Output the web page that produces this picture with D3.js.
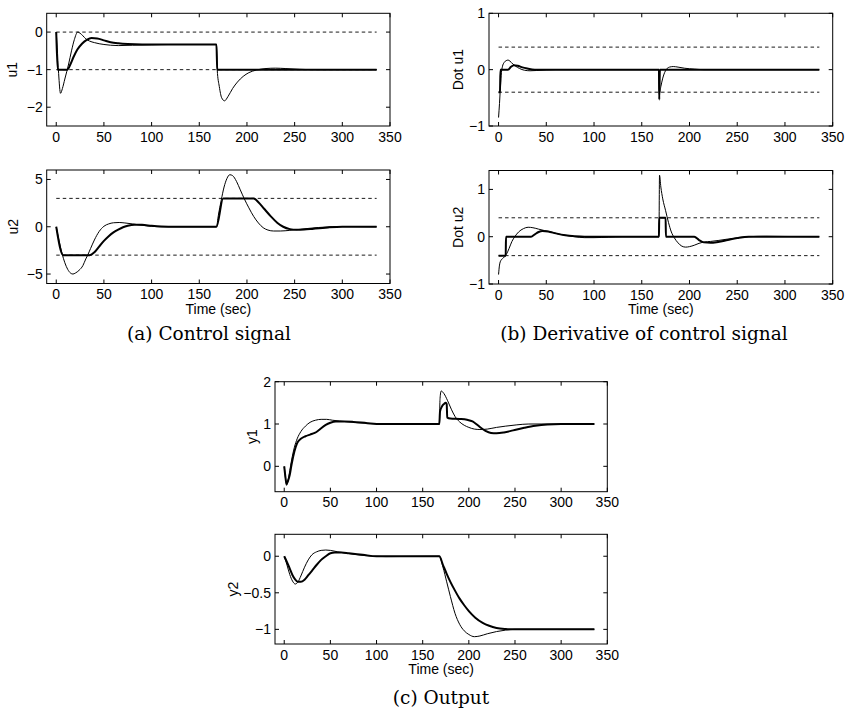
<!DOCTYPE html>
<html>
<head>
<meta charset="utf-8">
<script src="https://cdn.jsdelivr.net/npm/d3@7"></script>
<style>
  body { margin: 0; background: #fff; }
  svg { display: block; }
  .tick-label { font-family: "Liberation Sans", Arial, sans-serif; font-size: 14px; fill: #000; }
  .caption { font-family: "DejaVu Serif", serif; font-size: 18.5px; fill: #000; }
</style>
</head>
<body>
<svg id="chart" width="846" height="713"></svg>
<script>
// x ticks shared by every panel
const timeTicks = [0, 50, 100, 150, 200, 250, 300, 350];

// (a) control signal u1: [time, value]
const u1Thin = [[0,0],[1,-0.4],[2.5,-1.1],[4.5,-1.63],[6.5,-1.5],[9,-1.25],[13,-0.85],[16,-0.5],[19,-0.2],[22.5,0],[25,-0.03],[28,-0.1],[31,-0.18],[35,-0.24],[40,-0.28],[45,-0.31],[50,-0.33],[57,-0.35],[65,-0.36],[80,-0.35],[100,-0.34],[120,-0.33],[168,-0.33],[168.8,-1],[171,-1.45],[173.5,-1.75],[176.5,-1.83],[180,-1.72],[185,-1.5],[190,-1.33],[196,-1.18],[202,-1.08],[210,-1.01],[220,-0.97],[230,-0.96],[240,-0.97],[255,-0.99],[270,-1],[336,-1]];
const u1Thick = [[0,0],[1.5,-1],[11.5,-1],[15,-0.85],[18,-0.67],[22,-0.47],[27,-0.31],[32,-0.21],[37,-0.16],[43,-0.17],[50,-0.22],[57,-0.27],[65,-0.3],[75,-0.32],[90,-0.33],[168,-0.33],[168.8,-1],[336,-1]];
const u1Bounds = [0, -1];

// (a) control signal u2
const u2Thin = [[0,0],[3,-1.5],[6,-2.8],[9,-3.8],[12,-4.5],[15,-4.9],[17.5,-5],[20,-4.9],[24,-4.6],[28,-4.1],[31,-3.4],[33,-3.0],[36,-2.3],[40,-1.4],[45,-0.5],[50,0.05],[55,0.3],[60,0.42],[66,0.45],[72,0.4],[80,0.3],[90,0.15],[100,0.05],[110,0],[168,0],[170,1.2],[173,2.8],[176,4.2],[179,5.1],[182,5.5],[185,5.4],[189,4.8],[193,3.9],[197,3.0],[202,2.0],[207,1.1],[212,0.4],[217,-0.1],[222,-0.35],[228,-0.45],[235,-0.45],[245,-0.38],[255,-0.28],[265,-0.17],[275,-0.08],[285,-0.02],[295,0.02],[310,0.02],[336,0]];
const u2Thick = [[0,0],[7.3,-3],[35,-3],[40,-2.7],[45,-2.1],[50,-1.5],[55,-1.0],[60,-0.6],[65,-0.3],[70,-0.05],[75,0.1],[82,0.2],[90,0.2],[100,0.1],[110,0.03],[125,0],[168,0],[175,3],[207,3],[212,2.6],[218,1.9],[225,1.1],[232,0.4],[238,0],[245,-0.25],[252,-0.33],[260,-0.3],[270,-0.2],[285,-0.07],[300,0],[336,0]];
const u2Bounds = [3, -3];

// (b) derivative of u1
const du1Thin = [[0,-0.85],[1,-0.6],[2,-0.3],[3,-0.05],[4,0.05],[6,0.13],[8,0.16],[10,0.17],[12,0.15],[15,0.1],[18,0.06],[22,0.02],[27,-0.01],[33,-0.02],[40,-0.015],[50,-0.005],[60,0],[168,0],[168.5,-0.42],[170,-0.3],[172,-0.15],[174,-0.05],[176,0.01],[179,0.045],[183,0.055],[188,0.045],[195,0.025],[205,0.01],[215,0],[336,0]];
const du1Thick = [[0,-0.4],[1.5,-0.4],[2,0],[10,0],[13,0.05],[16,0.08],[20,0.07],[25,0.04],[30,0.02],[38,0],[168,0],[168.3,-0.53],[169,0],[336,0]];
const du1Bounds = [0.4, -0.4];

// (b) derivative of u2
const du2Thin = [[0,-0.8],[1,-0.6],[2.5,-0.5],[5,-0.45],[8,-0.38],[11,-0.25],[14,-0.1],[17,0],[21,0.1],[26,0.17],[31,0.2],[36,0.19],[42,0.16],[48,0.13],[55,0.1],[62,0.06],[70,0.03],[80,0],[90,-0.02],[100,-0.02],[115,-0.01],[130,0],[168,0],[168.6,1.3],[170,1.05],[172,0.8],[175,0.55],[178,0.3],[181,0.1],[184,-0.02],[188,-0.13],[192,-0.2],[196,-0.22],[200,-0.21],[205,-0.18],[210,-0.14],[216,-0.11],[222,-0.1],[230,-0.08],[240,-0.05],[250,-0.02],[262,0],[280,0.01],[300,0.005],[336,0]];
const du2Thick = [[0,-0.4],[7.5,-0.4],[7.8,0],[34,0],[38,0.05],[42,0.1],[46,0.12],[52,0.11],[60,0.07],[70,0.03],[80,0.01],[90,0],[168,0],[168.3,0.4],[175,0.4],[175.3,0],[205,0],[210,-0.07],[215,-0.12],[222,-0.13],[230,-0.11],[240,-0.07],[250,-0.03],[262,0],[336,0]];
const du2Bounds = [0.4, -0.4];

// (c) output y1
const y1Thin = [[0,0],[1,-0.2],[2.5,-0.45],[4,-0.35],[6,-0.1],[8,0.15],[11,0.45],[14,0.65],[18,0.82],[23,0.95],[28,1.04],[34,1.09],[40,1.11],[46,1.11],[52,1.09],[60,1.07],[70,1.05],[80,1.03],[95,1.01],[110,1.0],[168,1.0],[168.8,1.6],[170,1.78],[173,1.72],[177,1.55],[181,1.35],[185,1.18],[190,1.05],[195,0.97],[200,0.92],[206,0.88],[212,0.87],[220,0.88],[230,0.92],[240,0.95],[252,0.98],[265,1.0],[336,1.0]];
const y1Thick = [[0,0],[1,-0.2],[2.5,-0.42],[4,-0.35],[6,-0.2],[8,0.05],[11,0.35],[14,0.55],[18,0.65],[23,0.71],[28,0.75],[33,0.79],[36,0.83],[40,0.9],[45,0.98],[50,1.03],[56,1.06],[65,1.06],[75,1.05],[90,1.02],[105,1.0],[168,1.0],[168.8,1.3],[171,1.42],[173,1.47],[175,1.5],[176,1.47],[176.6,1.15],[180,1.13],[190,1.12],[198,1.1],[204,1.06],[208,1.0],[213,0.91],[218,0.84],[224,0.79],[230,0.78],[238,0.8],[248,0.85],[260,0.91],[272,0.96],[285,0.99],[300,1.0],[336,1.0]];

// (c) output y2
const y2Thin = [[0,0],[3,-0.12],[6,-0.25],[9,-0.34],[12,-0.38],[15,-0.35],[18,-0.27],[22,-0.15],[26,-0.05],[30,0.02],[35,0.06],[40,0.08],[45,0.085],[50,0.08],[58,0.06],[68,0.04],[80,0.02],[95,0],[110,-0.005],[168,0],[172,-0.15],[176,-0.35],[180,-0.55],[185,-0.78],[190,-0.93],[195,-1.02],[200,-1.07],[206,-1.1],[212,-1.09],[220,-1.06],[230,-1.03],[240,-1.01],[250,-1.0],[336,-1]];
const y2Thick = [[0,0],[3,-0.08],[6,-0.17],[9,-0.26],[12,-0.32],[15,-0.35],[18,-0.35],[22,-0.32],[26,-0.26],[30,-0.2],[35,-0.12],[40,-0.05],[45,0],[50,0.04],[55,0.05],[62,0.05],[70,0.04],[85,0.02],[100,0],[168,0],[172,-0.12],[176,-0.24],[180,-0.35],[185,-0.47],[190,-0.58],[195,-0.67],[200,-0.75],[207,-0.84],[215,-0.91],[222,-0.95],[230,-0.98],[240,-0.995],[250,-1.0],[336,-1]];

const svg = d3.select("#chart");
const tickLen = 4;

function panel(opt) {
    const x = d3.scaleLinear().domain([-10, 350]).range([opt.left, opt.right]);
    const y = d3.scaleLinear().domain(opt.yDomain).range([opt.bottom, opt.top]);
    const g = svg.append("g");

    // limit lines
    (opt.bounds || []).forEach(b => {
        g.append("line")
            .attr("x1", x(0)).attr("x2", x(336))
            .attr("y1", y(b)).attr("y2", y(b))
            .attr("stroke", "#000").attr("stroke-width", 0.9)
            .attr("stroke-dasharray", "3.5,3");
    });

    const line = d3.line()
        .x(d => x(d[0]))
        .y(d => y(d[1]))
        .curve(d3.curveMonotoneX);

    g.append("path").datum(opt.thin)
        .attr("fill", "none").attr("stroke", "#000").attr("stroke-width", 1)
        .attr("d", line);
    g.append("path").datum(opt.thick)
        .attr("fill", "none").attr("stroke", "#000").attr("stroke-width", 2)
        .attr("stroke-linejoin", "round")
        .attr("d", line);

    // frame
    g.append("rect")
        .attr("x", opt.left).attr("y", opt.top)
        .attr("width", opt.right - opt.left).attr("height", opt.bottom - opt.top)
        .attr("fill", "none").attr("stroke", "#000").attr("stroke-width", 1);

    // x ticks, inside on top and bottom
    timeTicks.forEach(t => {
        g.append("line").attr("x1", x(t)).attr("x2", x(t))
            .attr("y1", opt.bottom).attr("y2", opt.bottom - tickLen).attr("stroke", "#000");
        g.append("line").attr("x1", x(t)).attr("x2", x(t))
            .attr("y1", opt.top).attr("y2", opt.top + tickLen).attr("stroke", "#000");
        g.append("text").attr("class", "tick-label")
            .attr("x", x(t)).attr("y", opt.bottom + 15.5)
            .attr("text-anchor", "middle")
            .text(d3.format("d")(t));
    });

    // y ticks, inside on left and right
    opt.yTicks.forEach(v => {
        g.append("line").attr("x1", opt.left).attr("x2", opt.left + tickLen)
            .attr("y1", y(v)).attr("y2", y(v)).attr("stroke", "#000");
        g.append("line").attr("x1", opt.right).attr("x2", opt.right - tickLen)
            .attr("y1", y(v)).attr("y2", y(v)).attr("stroke", "#000");
        g.append("text").attr("class", "tick-label")
            .attr("x", opt.left - 4).attr("y", y(v) + 5)
            .attr("text-anchor", "end")
            .text(d3.format("")(v).replace("-", "\u2212"));
    });

    g.append("text").attr("class", "tick-label")
        .attr("transform", `translate(${opt.labelX},${(opt.top + opt.bottom) / 2}) rotate(-90)`)
        .attr("text-anchor", "middle")
        .attr("dy", "0.35em")
        .text(opt.label);

    if (opt.timeLabel) {
        g.append("text").attr("class", "tick-label")
            .attr("x", (opt.left + opt.right) / 2).attr("y", opt.bottom + 30)
            .attr("text-anchor", "middle")
            .text("Time (sec)");
    }
}

panel({left: 46.7, right: 390, top: 13.3, bottom: 126, yDomain: [-2.5, 0.5], yTicks: [0, -1, -2],
       thin: u1Thin, thick: u1Thick, bounds: u1Bounds, label: "u1", labelX: 12});
panel({left: 46.7, right: 390, top: 170, bottom: 283.5, yDomain: [-6, 6], yTicks: [5, 0, -5],
       thin: u2Thin, thick: u2Thick, bounds: u2Bounds, label: "u2", labelX: 13, timeLabel: true});
panel({left: 489, right: 832.7, top: 13.3, bottom: 126, yDomain: [-1, 1], yTicks: [1, 0, -1],
       thin: du1Thin, thick: du1Thick, bounds: du1Bounds, label: "Dot u1", labelX: 458});
panel({left: 489, right: 832.7, top: 170.5, bottom: 284, yDomain: [-1, 1.4], yTicks: [1, 0, -1],
       thin: du2Thin, thick: du2Thick, bounds: du2Bounds, label: "Dot u2", labelX: 458, timeLabel: true});
panel({left: 275, right: 607.3, top: 381.7, bottom: 491.7, yDomain: [-0.6, 2], yTicks: [2, 1, 0],
       thin: y1Thin, thick: y1Thick, label: "y1", labelX: 252});
panel({left: 275, right: 607.3, top: 534.3, bottom: 644, yDomain: [-1.2, 0.3], yTicks: [0, -0.5, -1],
       thin: y2Thin, thick: y2Thick, label: "y2", labelX: 233, timeLabel: true});

// sub-figure captions
const captions = [
    {text: "(a) Control signal", x: 209, y: 340},
    {text: "(b) Derivative of control signal", x: 644, y: 340},
    {text: "(c) Output", x: 441, y: 704}
];
captions.forEach(c => {
    svg.append("text").attr("class", "caption")
        .attr("x", c.x).attr("y", c.y)
        .attr("text-anchor", "middle")
        .text(c.text);
});
</script>
</body>
</html>
